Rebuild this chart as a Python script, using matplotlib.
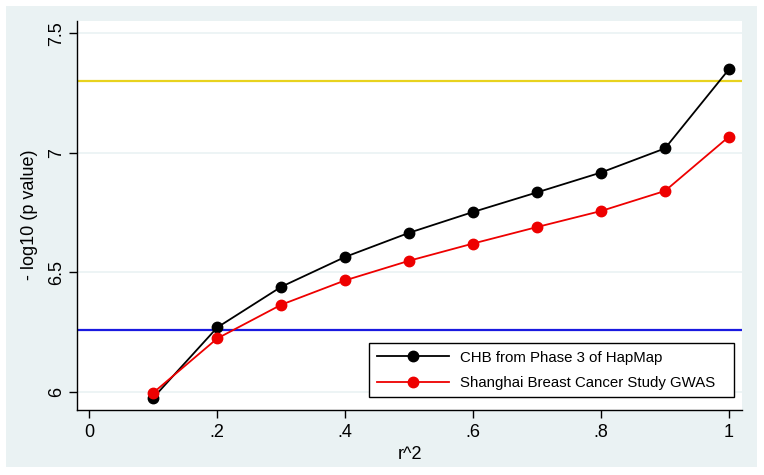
import matplotlib
matplotlib.use("Agg")
import matplotlib.pyplot as plt
from matplotlib.patches import Rectangle

r2 = [0.1, 0.2, 0.3, 0.4, 0.5, 0.6, 0.7, 0.8, 0.9, 1.0]
chb = [5.976, 6.270, 6.440, 6.565, 6.666, 6.753, 6.835, 6.918, 7.019, 7.350]
sbcs = [5.997, 6.224, 6.365, 6.467, 6.549, 6.621, 6.690, 6.757, 6.841, 7.068]
yellow_ref = 7.30
blue_ref = 6.26
xticks = [0, 0.2, 0.4, 0.6, 0.8, 1.0]
xticklabels = ["0", ".2", ".4", ".6", ".8", "1"]
yticks = [6, 6.5, 7, 7.5]
yticklabels = ["6", "6.5", "7", "7.5"]
labels = ["CHB from Phase 3 of HapMap", "Shanghai Breast Cancer Study GWAS"]

plt.rcParams['font.family'] = ['Liberation Sans', 'DejaVu Sans']

W, H = 764, 475
fig = plt.figure(figsize=(W/100, H/100), dpi=100)
fig.patch.set_facecolor('white')
fig.patches.append(Rectangle((6/W, 1-467/H), (757-6)/W, (467-6)/H,
                             transform=fig.transFigure, facecolor='#EAF2F3',
                             edgecolor='none', zorder=-10))

L, R, T, B = 77.3, 741.7, 20.7, 409.7
ax = fig.add_axes([L/W, 1-B/H, (R-L)/W, (B-T)/H])
ax.set_facecolor('white')
ax.set_xlim(-0.0188, 1.0199)
ax.set_ylim(5.926, 7.553)

for yv in yticks:
    ax.axhline(yv, color='#EAF2F3', lw=1.2, zorder=0)

ax.axhline(yellow_ref, color='#E8D21E', lw=1.6, zorder=1)
ax.axhline(blue_ref, color='#1A1AE0', lw=1.6, zorder=1)

l1, = ax.plot(r2, chb, color='black', lw=1.3, marker='o', markersize=7.5, zorder=3)
l2, = ax.plot(r2, sbcs, color='#EE0000', lw=1.3, marker='o', markersize=7.5, zorder=3)

ax.set_xticks(xticks)
ax.set_xticklabels(xticklabels, fontsize=13)
ax.set_yticks(yticks)
ax.set_yticklabels(yticklabels, fontsize=13, rotation=90, va='center')
ax.tick_params(axis='both', direction='out', length=6, width=1, color='black', pad=4)
ax.tick_params(axis='y', pad=3)

for s in ['top', 'right']:
    ax.spines[s].set_visible(False)
for s in ['left', 'bottom']:
    ax.spines[s].set_color('black')
    ax.spines[s].set_linewidth(1)

ax.set_xlabel("r^2", fontsize=13, labelpad=4)
ax.set_ylabel("- log10 (p value)", fontsize=13, labelpad=7)

# legend box: left 369, right 734, bottom 397.3 (pixels)
lx0 = (369 - L) / (R - L)
lx1 = (734 - L) / (R - L)
ly0 = (B - 397.3) / (B - T)
leg = ax.legend([l1, l2], labels, loc='lower left', fontsize=10.8,
                bbox_to_anchor=(lx0, ly0, lx1 - lx0, 0.1), mode='expand',
                frameon=True, fancybox=False, framealpha=1, edgecolor='black',
                borderpad=0.5, borderaxespad=0, handlelength=4.8,
                handletextpad=0.75, labelspacing=0.75)
leg.get_frame().set_linewidth(1)

fig.savefig("out.png", dpi=100, facecolor=fig.get_facecolor())
